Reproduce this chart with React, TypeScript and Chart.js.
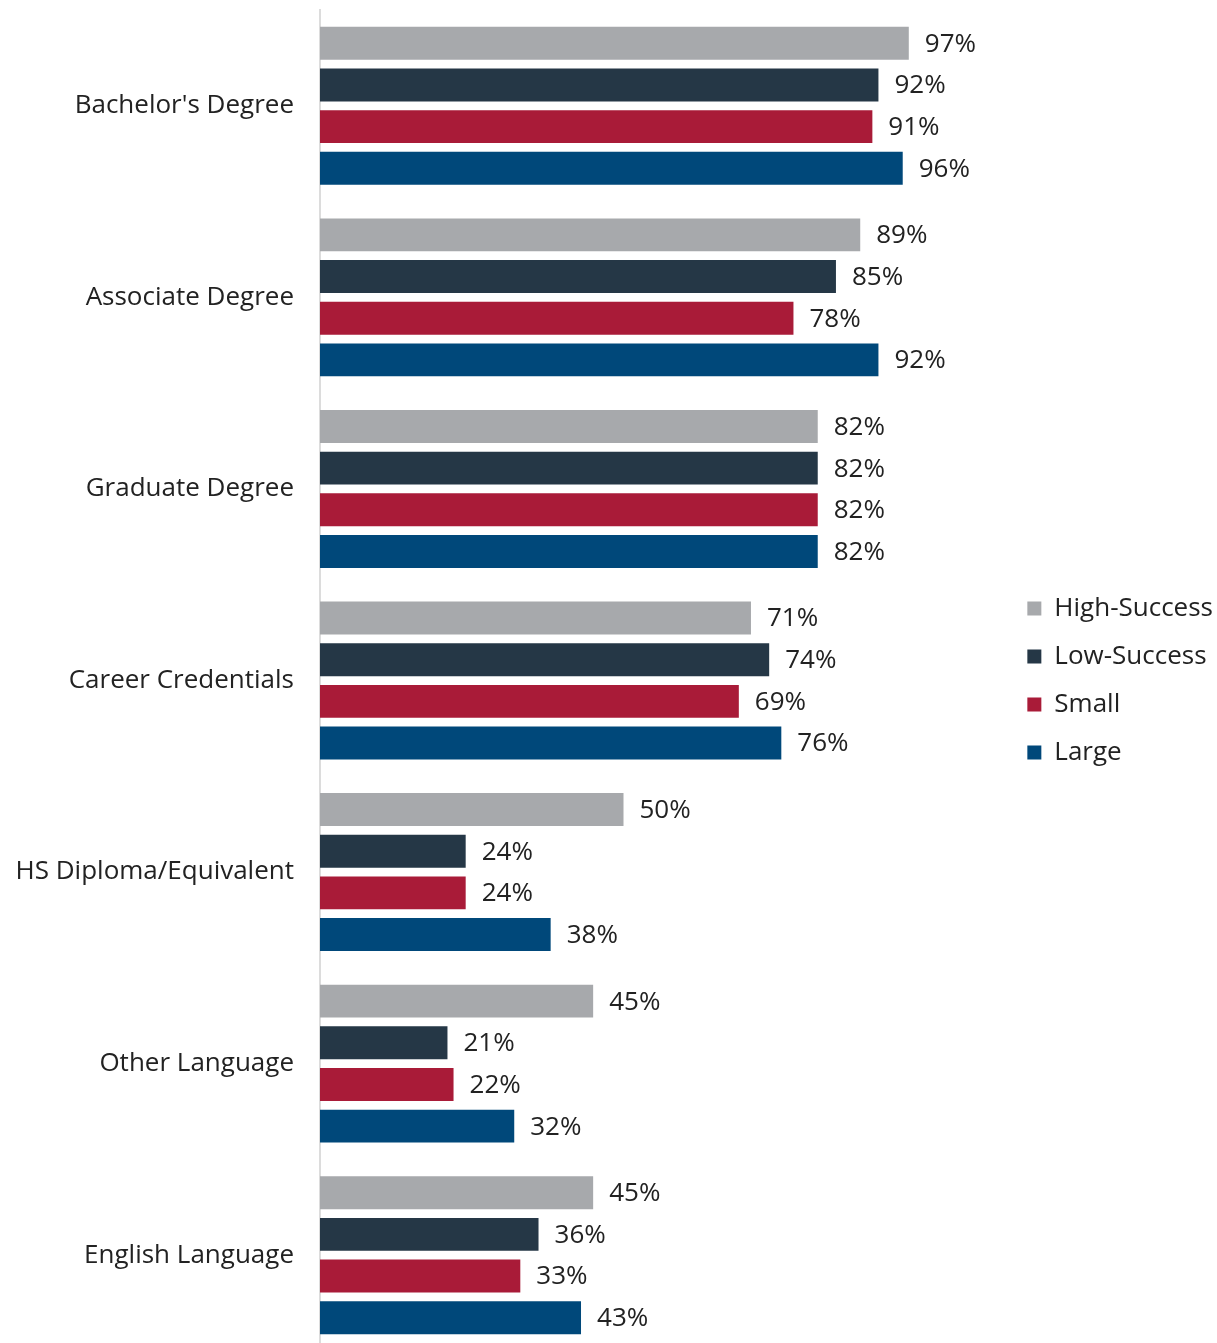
import React, { useEffect, useRef } from "react";
import { Chart, registerables } from "chart.js";

Chart.register(...registerables);

const categories = [
  "Bachelor's Degree",
  "Associate Degree",
  "Graduate Degree",
  "Career Credentials",
  "HS Diploma/Equivalent",
  "Other Language",
  "English Language",
];
const highSuccess = [97, 89, 82, 71, 50, 45, 45];
const lowSuccess = [92, 85, 82, 74, 24, 21, 36];
const small = [91, 78, 82, 69, 24, 22, 33];
const large = [96, 92, 82, 76, 38, 32, 43];

const seriesNames = ["High-Success", "Low-Success", "Small", "Large"];
const seriesColors = ["#A7A9AC", "#253746", "#A91B38", "#00487A"];

const FONT = "'Open Sans', Lato, sans-serif";
const FONT_SIZE = 26;
const TEXT = "#222222";
const PX_PER_PCT = 6.07;

const valueLabels = {
  id: "valueLabels",
  afterDatasetsDraw(chart: any) {
    const ctx = chart.ctx;
    ctx.save();
    ctx.font = `${FONT_SIZE}px ${FONT}`;
    ctx.fillStyle = TEXT;
    ctx.textAlign = "left";
    ctx.textBaseline = "middle";
    chart.data.datasets.forEach((ds: any, di: number) => {
      const meta = chart.getDatasetMeta(di);
      meta.data.forEach((bar: any, i: number) => {
        ctx.fillText(`${ds.data[i]}%`, bar.x + 16, bar.y + 1);
      });
    });
    ctx.restore();
  },
};

const legendShift = {
  id: "legendShift",
  afterLayout(chart: any) {
    if (chart.legend) {
      chart.legend.left += 6;
      chart.legend.right += 6;
    }
  },
};

export default function App() {
  const ref = useRef<HTMLCanvasElement | null>(null);
  useEffect(() => {
    document.body.style.margin = "0";
    const all = [highSuccess, lowSuccess, small, large];
    const chart = new Chart(ref.current as HTMLCanvasElement, {
      type: "bar",
      data: {
        labels: categories,
        datasets: all.map((d, i) => ({
          label: seriesNames[i],
          data: d,
          backgroundColor: seriesColors[i],
          borderWidth: 0,
          categoryPercentage: 0.87,
          barPercentage: 0.79,
        })),
      },
      options: {
        indexAxis: "y",
        animation: false,
        responsive: false,
        layout: { padding: { top: 10, bottom: 0, left: 0, right: 0 } },
        scales: {
          x: {
            display: false,
            bounds: "data",
            min: 0,
            afterDataLimits: (scale: any) => {
              scale.min = 0;
              scale.max = scale.width / PX_PER_PCT;
            },
            grid: { display: false },
          },
          y: {
            afterFit: (scale: any) => {
              scale.width = 320;
              scale.paddingTop = 0;
              scale.paddingBottom = 0;
            },
            grid: { display: false, drawTicks: false },
            border: { display: true, color: "#DCDCDC", width: 2 },
            ticks: {
              padding: 26,
              color: TEXT,
              font: { family: FONT, size: FONT_SIZE },
            },
          },
        },
        plugins: {
          legend: {
            position: "right",
            align: "center",
            labels: {
              boxWidth: 14,
              boxHeight: 14,
              padding: 22,
              color: TEXT,
              font: { family: FONT, size: FONT_SIZE },
            },
          },
          tooltip: { enabled: false },
        },
      },
      plugins: [valueLabels, legendShift],
    } as any);
    return () => chart.destroy();
  }, []);
  return (
    <div style={{ width: 1217, height: 1343, overflow: "hidden", background: "#fff" }}>
      <canvas ref={ref} width={1217} height={1351} style={{ display: "block" }} />
    </div>
  );
}
